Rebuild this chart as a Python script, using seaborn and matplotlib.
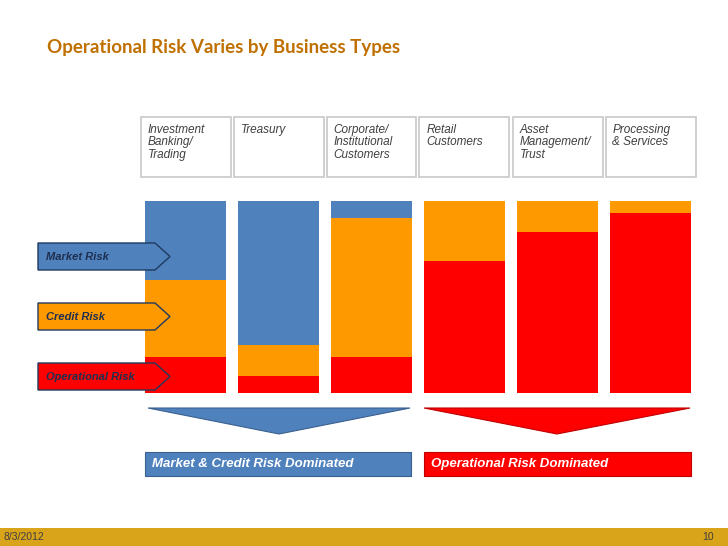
import matplotlib
matplotlib.use("Agg")
import matplotlib.pyplot as plt
from matplotlib.patches import Polygon, Rectangle
import seaborn as sns
import pandas as pd

categories = ["Investment\nBanking/\nTrading", "Treasury", "Corporate/\nInstitutional\nCustomers",
              "Retail\nCustomers", "Asset\nManagement/\nTrust", "Processing\n& Services"]
operational = [19, 9, 19, 69, 84, 94]
credit = [40, 16, 72, 31, 16, 6]
market = [41, 75, 9, 0, 0, 0]

BLUE, ORANGE, RED = "#4F81BD", "#FF9900", "#FF0000"
W, H = 728, 546
fig = plt.figure(figsize=(7.28, 5.46), dpi=100)
fig.patch.set_facecolor("white")

def fx(x): return x / W
def fy(y): return 1 - y / H

ax = fig.add_axes([fx(139), fy(393), 558 / W, 192 / H])
df = pd.DataFrame({"cat": range(6), "op": operational,
                   "cr": [o + c for o, c in zip(operational, credit)],
                   "mk": [o + c + m for o, c, m in zip(operational, credit, market)]})
kw = dict(x="cat", ax=ax, width=0.87, linewidth=0, saturation=1, native_scale=True)
sns.barplot(data=df, y="mk", color=BLUE, **kw)
sns.barplot(data=df, y="cr", color=ORANGE, **kw)
sns.barplot(data=df, y="op", color=RED, **kw)
ax.set_xlim(-0.5, 5.5); ax.set_ylim(0, 100); ax.axis("off")

def prect(x0, y0, x1, y1, **k):
    fig.patches.append(Rectangle((fx(x0), fy(y1)), fx(x1 - x0), (y1 - y0) / H,
                                 transform=fig.transFigure, **k))

def ppoly(pts, **k):
    fig.patches.append(Polygon([(fx(x), fy(y)) for x, y in pts], closed=True,
                               transform=fig.transFigure, **k))

font = "Liberation Sans"
fig.text(fx(47), fy(48), "Operational Risk Varies by Business Types", fontsize=13.5,
         fontweight="bold", color="#C07000", family="Lato", va="center")

# header boxes
for i, c in enumerate(categories):
    cx = 185.5 + 93 * i
    prect(cx - 45, 117, cx + 45, 177, facecolor="white", edgecolor="#C8C8C8", linewidth=1.2)
    fig.text(fx(cx - 38), fy(124), c, fontsize=8.5, style="italic", color="#404040",
             family=font, va="top", ha="left", linespacing=1.05)

# left arrow labels
for y, lab, col in [(243, "Market Risk", BLUE), (303, "Credit Risk", ORANGE),
                    (363, "Operational Risk", RED)]:
    ppoly([(38, y), (155, y), (170, y + 13.5), (155, y + 27), (38, y + 27)],
          facecolor=col, edgecolor="#1F3A5F", linewidth=1)
    fig.text(fx(46), fy(y + 13.5), lab, fontsize=8, style="italic", fontweight="bold",
             color="#1F2F4F", family=font, va="center")

# triangles
ppoly([(148, 408), (410, 408), (279, 434)], facecolor=BLUE, edgecolor="#3A6090", linewidth=0.8)
ppoly([(424, 408), (690, 408), (557, 434)], facecolor=RED, edgecolor="#C00000", linewidth=0.8)

# bottom boxes
prect(145, 452, 411, 476, facecolor=BLUE, edgecolor="#3A6090", linewidth=0.8)
prect(424, 452, 691, 476, facecolor=RED, edgecolor="#C00000", linewidth=0.8)
fig.text(fx(152), fy(464), "Market & Credit Risk Dominated", fontsize=9.5, style="italic",
         fontweight="bold", color="white", family=font, va="center")
fig.text(fx(431), fy(464), "Operational Risk Dominated", fontsize=9.5, style="italic",
         fontweight="bold", color="white", family=font, va="center")

# footer
prect(0, 528, 728, 546, facecolor="#D9A31A", edgecolor="none")
fig.text(fx(4), fy(537), "8/3/2012", fontsize=7.5, color="#404040", family=font, va="center")
fig.text(fx(714), fy(537), "10", fontsize=7.5, color="#404040", family=font, va="center", ha="right")

fig.savefig("out.png", dpi=100)
